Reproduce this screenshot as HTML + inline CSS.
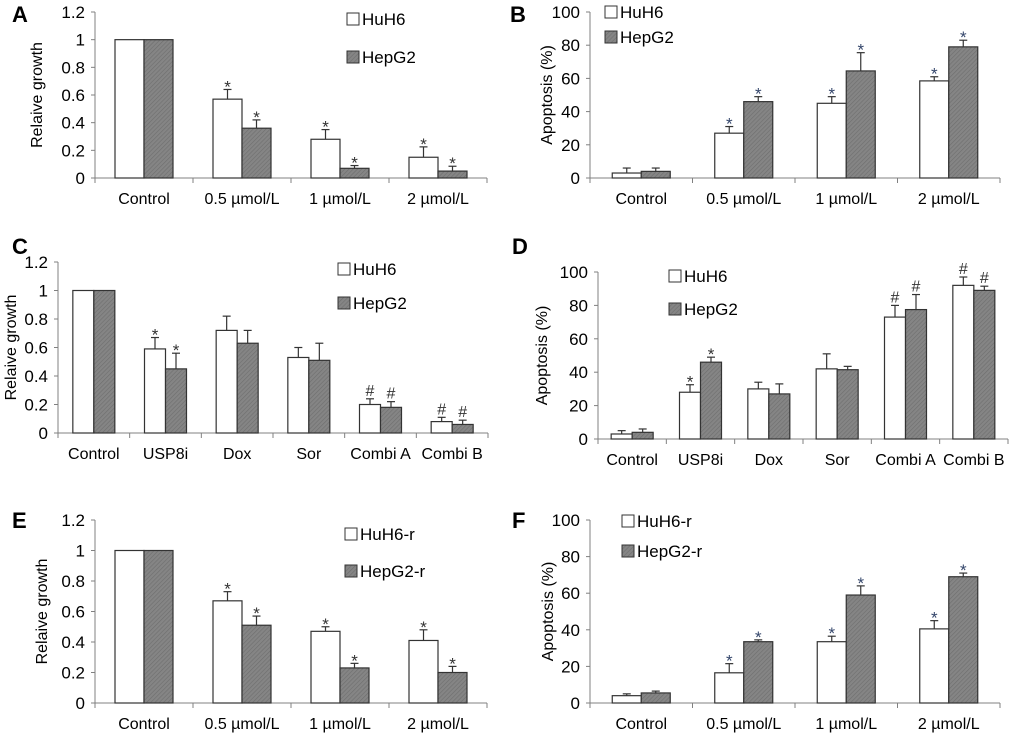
<!DOCTYPE html>
<html><head><meta charset="utf-8"><style>
html,body{margin:0;padding:0;background:#fff}
svg{display:block;font-family:"Liberation Sans",Arial,sans-serif}
</style></head><body>
<svg id="fig" width="1020" height="739" viewBox="0 0 1020 739" xmlns="http://www.w3.org/2000/svg">
<defs>
<pattern id="hatch" patternUnits="userSpaceOnUse" width="3" height="3" patternTransform="rotate(45)">
<rect width="3" height="3" fill="#858585"/><line x1="0" y1="0" x2="0" y2="3" stroke="#6e6e6e" stroke-width="1.2"/>
</pattern>
</defs>
</svg>
<script>
const catsDose = ["Control","0.5 µmol/L","1 µmol/L","2 µmol/L"];
const catsDrug = ["Control","USP8i","Dox","Sor","Combi A","Combi B"];
const ticksGrowth = ["0","0.2","0.4","0.6","0.8","1","1.2"];
const tickGrowthVals = [0,0.2,0.4,0.6,0.8,1,1.2];
const ticksApop = ["0","20","40","60","80","100"];
const tickApopVals = [0,20,40,60,80,100];

const aHuH6 = [1,0.57,0.28,0.15];
const aHuH6Err = [0,0.07,0.07,0.075];
const aHepG2 = [1,0.36,0.07,0.05];
const aHepG2Err = [0,0.06,0.02,0.035];
const aMarks1 = ["","*","*","*"];
const aMarks2 = ["","*","*","*"];

const bHuH6 = [3,27,45,58.5];
const bHuH6Err = [3,4,4,2.5];
const bHepG2 = [4,46,64.5,79];
const bHepG2Err = [2,3,11,4];
const bMarks1 = ["","*","*","*"];
const bMarks2 = ["","*","*","*"];

const cHuH6 = [1,0.59,0.72,0.53,0.2,0.08];
const cHuH6Err = [0,0.08,0.1,0.07,0.04,0.03];
const cHepG2 = [1,0.45,0.63,0.51,0.18,0.06];
const cHepG2Err = [0,0.11,0.09,0.12,0.04,0.03];
const cMarks1 = ["","*","","","#","#"];
const cMarks2 = ["","*","","","#","#"];

const dHuH6 = [3,28,30,42,73,92];
const dHuH6Err = [2,4.5,4,9,7,5];
const dHepG2 = [4,46,27,41.5,77.5,89];
const dHepG2Err = [2,3,6,2,9,2.5];
const dMarks1 = ["","*","","","#","#"];
const dMarks2 = ["","*","","","#","#"];

const eHuH6 = [1,0.67,0.47,0.41];
const eHuH6Err = [0,0.06,0.03,0.07];
const eHepG2 = [1,0.51,0.23,0.2];
const eHepG2Err = [0,0.06,0.03,0.04];
const eMarks1 = ["","*","*","*"];
const eMarks2 = ["","*","*","*"];

const fHuH6 = [4,16.5,33.5,40.5];
const fHuH6Err = [1,5,3,4.5];
const fHepG2 = [5.5,33.5,59,69];
const fHepG2Err = [1,1,5,2];
const fMarks1 = ["","*","*","*"];
const fMarks2 = ["","*","*","*"];

const NS="http://www.w3.org/2000/svg";
const svg=document.getElementById('fig');
function mk(tag,attrs,parent,text){const e=document.createElementNS(NS,tag);for(const k in attrs)e.setAttribute(k,attrs[k]);if(text!==undefined)e.textContent=text;(parent||svg).appendChild(e);return e;}

function panel(p){
  const g=mk('g',{});
  
  
  const yS=v=>p.y0-(v/p.max)*(p.y0-p.yTop);
  const n=p.cats.length, cw=(p.x1-p.x0)/n;
  const xC=i=>p.x0+cw*(i+0.5);
  const bw=p.bw;
  const lt=mk('text',{x:p.lx,y:p.ly,'font-size':22,'font-weight':'bold',fill:'#000'},g,p.id);
  
  
  const ya=mk('line',{x1:p.x0,y1:p.yTop,x2:p.x0,y2:p.y0,stroke:'#808080','stroke-width':1},g);
  
  
  p.tickVals.forEach((v,i)=>{
    mk('line',{x1:p.x0-4,y1:yS(v),x2:p.x0,y2:yS(v),stroke:'#808080'},g);
    const t=mk('text',{x:p.x0-10,y:yS(v)+6,'font-size':17,'text-anchor':'end',fill:'#000'},g,p.ticks[i]);
    
    
  });
  const xa=mk('line',{x1:p.x0,y1:p.y0,x2:p.x1,y2:p.y0,stroke:'#808080','stroke-width':1},g);
  
  
  for(let i=0;i<=n;i++)mk('line',{x1:p.x0+cw*i,y1:p.y0,x2:p.x0+cw*i,y2:p.y0+5,stroke:'#808080'},g);
  const yt=mk('text',{x:p.tx,y:(p.y0+p.yTop)/2,'font-size':16,'text-anchor':'middle',transform:`rotate(-90 ${p.tx} ${(p.y0+p.yTop)/2})`,fill:'#000'},g,p.title);
  
  
  p.cats.forEach((c,i)=>{
    const t=mk('text',{x:xC(i),y:p.y0+26,'font-size':16,'text-anchor':'middle',fill:'#000'},g,c);
    
    
  });
  [[p.s1,p.e1,p.m1,'#fff',-1,'huh6'],[p.s2,p.e2,p.m2,'url(#hatch)',0,'hepg2']].forEach(([s,e,m,fill,off,nm])=>{
    s.forEach((v,i)=>{
      const x=xC(i)+off*bw, y=yS(v);
      const r=mk('rect',{x:x,y:y,width:bw,height:p.y0-y,fill:fill,stroke:'#333','stroke-width':1.2},g);
      
      
      let top=y;
      if(e[i]>0){
        const ye=yS(v+e[i]);top=ye;
        mk('line',{x1:x+bw/2,y1:y,x2:x+bw/2,y2:ye,stroke:'#333','stroke-width':1.2},g);
        mk('line',{x1:x+bw/2-4,y1:ye,x2:x+bw/2+4,y2:ye,stroke:'#333','stroke-width':1.2},g);
      }
      if(m[i]){
        const mt=mk('text',{x:x+bw/2,y:top-(m[i]=='*'?-3:3),'font-size':m[i]=='*'?17:16,'text-anchor':'middle',fill:p.markColor},g,m[i]);
        
        
      }
    });
  });
  [[p.n1,'#fff',0],[p.n2,'url(#hatch)',1]].forEach(([nm,fill,k])=>{
    const yy=p.legY+k*p.legGap;
    const lg=mk('g',{},g);
    
    
    mk('rect',{x:p.legX,y:yy-12,width:12,height:12,fill:fill,stroke:'#333','stroke-width':1},lg);
    mk('text',{x:p.legX+15,y:yy,'font-size':17,fill:'#000'},lg,nm);
  });
}
panel({id:'A',lx:12,ly:22,x0:95,x1:487,y0:178,yTop:12,max:1.2,bw:29,ticks:ticksGrowth,tickVals:tickGrowthVals,cats:catsDose,title:'Relaive growth',tx:42,
  s1:aHuH6,e1:aHuH6Err,m1:aMarks1,s2:aHepG2,e2:aHepG2Err,m2:aMarks2,n1:'HuH6',n2:'HepG2',legX:347,legY:25,legGap:38,markColor:'#333'});
panel({id:'B',lx:510,ly:22,x0:590,x1:1000,y0:178,yTop:12,max:100,bw:29,ticks:ticksApop,tickVals:tickApopVals,cats:catsDose,title:'Apoptosis (%)',tx:552,
  s1:bHuH6,e1:bHuH6Err,m1:bMarks1,s2:bHepG2,e2:bHepG2Err,m2:bMarks2,n1:'HuH6',n2:'HepG2',legX:605,legY:18,legGap:25,markColor:'#34466b'});
panel({id:'C',lx:12,ly:254,x0:58,x1:488,y0:433,yTop:262,max:1.2,bw:21,ticks:ticksGrowth,tickVals:tickGrowthVals,cats:catsDrug,title:'Relaive growth',tx:16,
  s1:cHuH6,e1:cHuH6Err,m1:cMarks1,s2:cHepG2,e2:cHepG2Err,m2:cMarks2,n1:'HuH6',n2:'HepG2',legX:338,legY:275,legGap:34,markColor:'#333'});
panel({id:'D',lx:512,ly:254,x0:598,x1:1008,y0:439,yTop:272,max:100,bw:21,ticks:ticksApop,tickVals:tickApopVals,cats:catsDrug,title:'Apoptosis (%)',tx:547,
  s1:dHuH6,e1:dHuH6Err,m1:dMarks1,s2:dHepG2,e2:dHepG2Err,m2:dMarks2,n1:'HuH6',n2:'HepG2',legX:669,legY:282,legGap:33,markColor:'#333'});
panel({id:'E',lx:12,ly:528,x0:95,x1:487,y0:703,yTop:520,max:1.2,bw:29,ticks:ticksGrowth,tickVals:tickGrowthVals,cats:catsDose,title:'Relaive growth',tx:47,
  s1:eHuH6,e1:eHuH6Err,m1:eMarks1,s2:eHepG2,e2:eHepG2Err,m2:eMarks2,n1:'HuH6-r',n2:'HepG2-r',legX:345,legY:540,legGap:37,markColor:'#333'});
panel({id:'F',lx:512,ly:528,x0:590,x1:1000,y0:703,yTop:520,max:100,bw:29,ticks:ticksApop,tickVals:tickApopVals,cats:catsDose,title:'Apoptosis (%)',tx:553,
  s1:fHuH6,e1:fHuH6Err,m1:fMarks1,s2:fHepG2,e2:fHepG2Err,m2:fMarks2,n1:'HuH6-r',n2:'HepG2-r',legX:622,legY:527,legGap:30,markColor:'#34466b'});
</script>
</body></html>
